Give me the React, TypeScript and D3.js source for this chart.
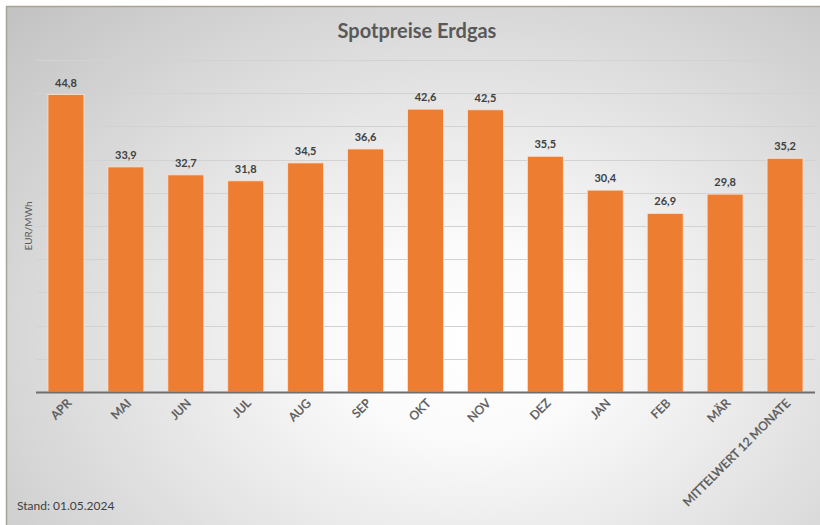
import { useEffect, useRef } from 'react';
import * as d3 from 'd3';

const months = ['APR', 'MAI', 'JUN', 'JUL', 'AUG', 'SEP', 'OKT', 'NOV', 'DEZ', 'JAN', 'FEB', 'MÄR', 'MITTELWERT 12 MONATE'];
const prices = [44.8, 33.9, 32.7, 31.8, 34.5, 36.6, 42.6, 42.5, 35.5, 30.4, 26.9, 29.8, 35.2];
const yTicks = [0, 5, 10, 15, 20, 25, 30, 35, 40, 45, 50];

const width = 820;
const height = 525;
const FONT = 'Lato, "Open Sans", sans-serif';

const App = () => {
    const svgRef = useRef<SVGSVGElement | null>(null);

    useEffect(() => {
        if (!svgRef.current) return;
        const svg = d3.select(svgRef.current);
        svg.selectAll('*').remove();

        const margin = { top: 60, right: 5, bottom: 133, left: 36 };

        // background gradient
        const defs = svg.append('defs');
        const grad = defs.append('radialGradient')
            .attr('id', 'bg')
            .attr('gradientUnits', 'userSpaceOnUse')
            .attr('cx', 470).attr('cy', 340).attr('r', 560)
            .attr('gradientTransform', 'translate(470,340) scale(1.15,0.85) translate(-470,-340)');
        grad.append('stop').attr('offset', 0).attr('stop-color', '#ffffff');
        grad.append('stop').attr('offset', 0.2).attr('stop-color', '#fbfbfb');
        grad.append('stop').attr('offset', 1).attr('stop-color', '#c2c2c2');

        svg.append('rect')
            .attr('x', 6.5).attr('y', 6.5)
            .attr('width', 830).attr('height', 540)
            .attr('fill', 'url(#bg)')
            .attr('stroke', '#a8a493')
            .attr('stroke-width', 1.5);

        const x = d3.scaleBand()
            .domain(months)
            .range([margin.left, width - margin.right])
            .paddingInner(0.4)
            .paddingOuter(0.2);

        const y = d3.scaleLinear()
            .domain([0, 50])
            .range([height - margin.bottom, margin.top]);

        // gridlines
        svg.append('g')
            .selectAll('line')
            .data(yTicks.slice(1))
            .join('line')
            .attr('x1', margin.left)
            .attr('x2', width - margin.right)
            .attr('y1', d => Math.round(y(d)) + 0.5)
            .attr('y2', d => Math.round(y(d)) + 0.5)
            .attr('stroke', '#d2d2d2')
            .attr('stroke-width', 1);

        // bars
        svg.append('g')
            .selectAll('rect')
            .data(prices)
            .join('rect')
            .attr('x', (d, i) => x(months[i]) as number)
            .attr('y', d => y(d))
            .attr('width', x.bandwidth())
            .attr('height', d => y(0) - y(d))
            .attr('fill', '#ed7d31')
            .attr('stroke', '#fbe3d2')
            .attr('stroke-width', 0.8);

        // baseline
        svg.append('line')
            .attr('x1', margin.left)
            .attr('x2', width - margin.right)
            .attr('y1', y(0) + 0.5)
            .attr('y2', y(0) + 0.5)
            .attr('stroke', '#6e6e6e')
            .attr('stroke-width', 2);

        // value labels
        svg.append('g')
            .attr('font-family', FONT)
            .attr('font-size', 11)
            .attr('font-weight', 'bold')
            .attr('fill', '#404040')
            .attr('text-anchor', 'middle')
            .selectAll('text')
            .data(prices)
            .join('text')
            .attr('x', (d, i) => (x(months[i]) as number) + x.bandwidth() / 2)
            .attr('y', d => y(d) - 8)
            .text(d => d.toFixed(1).replace('.', ','));

        // category labels (slightly thickened to match the heavier look)
        svg.append('g')
            .attr('font-family', FONT)
            .attr('font-size', 12)
            .attr('fill', '#595959')
            .attr('stroke', '#595959')
            .attr('stroke-width', 0.35)
            .attr('text-anchor', 'end')
            .selectAll('text')
            .data(months)
            .join('text')
            .attr('transform', d => `translate(${(x(d) as number) + x.bandwidth() / 2 + 6},${y(0) + 12}) rotate(-45)`)
            .text(d => d);

        // title
        svg.append('text')
            .attr('x', 417)
            .attr('y', 38)
            .attr('text-anchor', 'middle')
            .attr('font-family', FONT)
            .attr('font-size', 20)
            .attr('font-weight', 'bold')
            .attr('fill', '#595959')
            .text('Spotpreise Erdgas');

        // y axis title
        svg.append('text')
            .attr('transform', `translate(32,${(y(0) + y(50)) / 2}) rotate(-90)`)
            .attr('text-anchor', 'middle')
            .attr('font-family', FONT)
            .attr('font-size', 10)
            .attr('fill', '#595959')
            .text('EUR/MWh');

        // footnote
        svg.append('text')
            .attr('x', 17)
            .attr('y', 510)
            .attr('font-family', FONT)
            .attr('font-size', 12)
            .attr('fill', '#404040')
            .text('Stand: 01.05.2024');
    }, []);

    return (
        <svg
            ref={svgRef}
            width={width}
            height={height}
            style={{ position: 'absolute', left: 0, top: 0, display: 'block' }}
        ></svg>
    );
};

export default App;
